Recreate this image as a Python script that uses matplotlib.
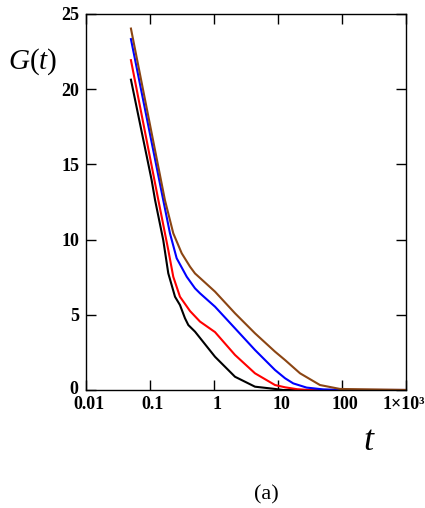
import matplotlib
matplotlib.use("Agg")
import matplotlib.pyplot as plt
import matplotlib.transforms as mtransforms

# ---- data ----
t_black = [0.05, 0.106, 0.12, 0.161, 0.193, 0.246, 0.294, 0.352, 0.397, 0.505, 1.037, 2.13, 4.37, 8.98, 12, 1000]
G_black = [20.7, 13.96, 12.63, 9.97, 7.76, 6.2, 5.65, 4.77, 4.32, 3.88, 2.21, 0.88, 0.22, 0.07, 0.0, 0.0]

t_red = [0.05, 0.135, 0.193, 0.231, 0.294, 0.422, 0.604, 1.037, 2.13, 4.37, 8.98, 12.9, 20, 30, 1000]
G_red = [22.0, 12.63, 9.31, 7.53, 6.2, 5.25, 4.55, 3.85, 2.33, 1.11, 0.33, 0.18, 0.05, 0.0, 0.0]

t_blue = [0.05, 0.161, 0.205, 0.261, 0.375, 0.505, 0.604, 1.037, 2.13, 4.37, 8.98, 12.9, 17.3, 28, 51, 100, 1000]
G_blue = [23.4, 12.63, 10.42, 8.76, 7.53, 6.76, 6.43, 5.54, 4.10, 2.66, 1.33, 0.78, 0.44, 0.16, 0.04, 0.0, 0.0]

t_brown = [0.05, 0.171, 0.231, 0.313, 0.422, 0.505, 0.604, 1.037, 2.13, 4.37, 8.98, 12.9, 22.1, 45.3, 93, 1000]
G_brown = [24.1, 12.63, 10.42, 9.09, 8.2, 7.75, 7.45, 6.54, 5.10, 3.77, 2.55, 1.99, 1.11, 0.33, 0.07, 0.0]

series = [
    (t_black, G_black, "black"),
    (t_red, G_red, "#ff0000"),
    (t_blue, G_blue, "#0000ff"),
    (t_brown, G_brown, "#8b4513"),
]

x_ticks = [0.01, 0.1, 1, 10, 100, 1000]
x_tick_labels = ["0.01", "0.1", "1", "10", "100", "1×10³"]
y_ticks = [0, 5, 10, 15, 20, 25]
y_tick_labels = ["0", "5", "10", "15", "20", "25"]

plt.rcParams['font.family'] = ['Liberation Serif', 'DejaVu Serif']
plt.rcParams['mathtext.fontset'] = 'custom'
plt.rcParams['mathtext.rm'] = 'Liberation Serif'
plt.rcParams['mathtext.it'] = 'Liberation Serif:italic'

fig = plt.figure(figsize=(4.25, 5.08), dpi=100)
ax = fig.add_axes([86/425, 1-390/508, 320/425, 376/508])

for t, G, c in series:
    ax.plot(t, G, color=c, lw=1.5, solid_joinstyle='round', solid_capstyle='butt')

ax.set_xscale('log')
ax.set_xlim(0.01, 1000)
ax.set_ylim(0, 25)
ax.set_xticks(x_ticks)
ax.set_xticklabels(x_tick_labels, fontsize=13, fontweight='bold')
ax.set_yticks(y_ticks)
ax.set_yticklabels(y_tick_labels, fontsize=13, fontweight='bold')
ax.minorticks_off()
ax.tick_params(direction='in', length=7.5, width=1, top=True, right=True)
ax.tick_params(axis='y', pad=5)
ax.tick_params(axis='x', pad=4)

labs = ax.get_xticklabels()
for i, lab in enumerate(labs):
    dx = 3 if i < len(labs) - 1 else -2
    off = mtransforms.ScaledTranslation(dx/100, 0, fig.dpi_scale_trans)
    lab.set_transform(lab.get_transform() + off)

ylabs = ax.get_yticklabels()
ylabs[0].set_transform(ylabs[0].get_transform() + mtransforms.ScaledTranslation(-1/100, 3/100, fig.dpi_scale_trans))

for s in ax.spines.values():
    s.set_linewidth(1.0)

fig.text(8/425, 1-62/508, r"$G(t)$", fontsize=21, ha='left', va='center')
fig.text(368/425, 1-441/508, "t", fontsize=26, style='italic', ha='center', va='center')
fig.text(266/425, 1-495/508, "(a)", fontsize=16, ha='center', va='center')

fig.savefig("out.png", dpi=100)
